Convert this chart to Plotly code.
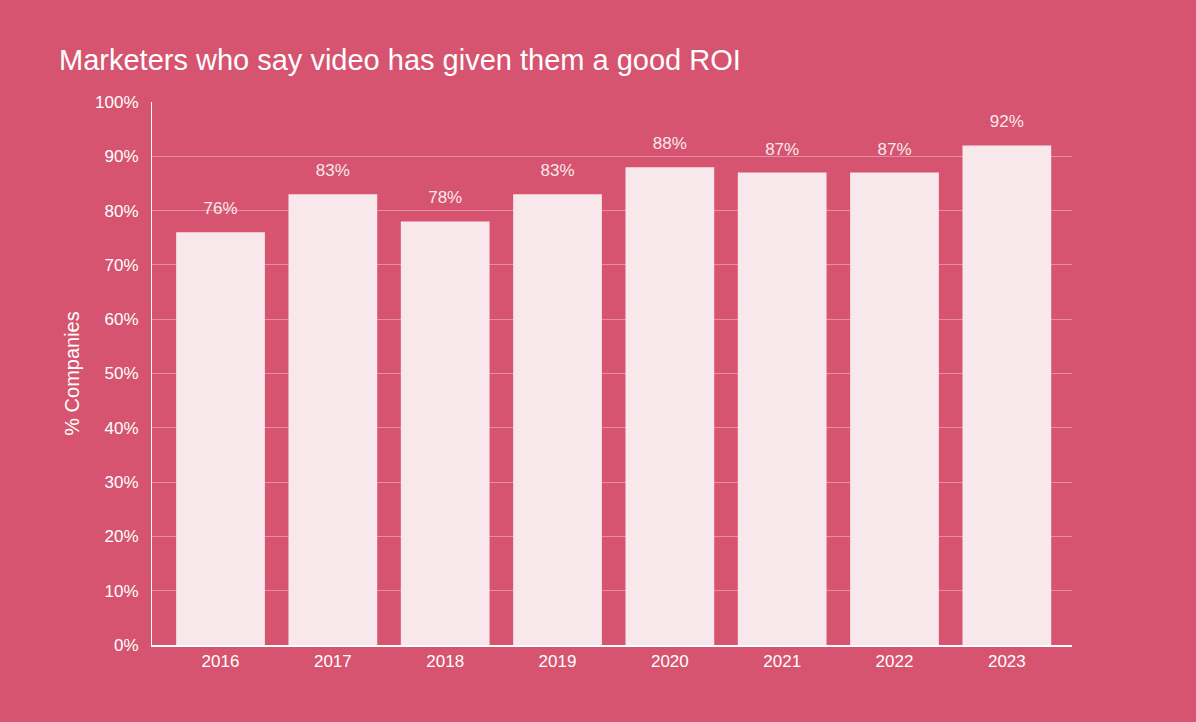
import plotly.graph_objects as go

years = ["2016", "2017", "2018", "2019", "2020", "2021", "2022", "2023"]
values = [76, 83, 78, 83, 88, 87, 87, 92]
labels = [f"{v}%" for v in values]
title_text = "Marketers who say video has given them a good ROI"
y_title = "% Companies"

BG = "#D6546F"
BAR = "#F9E8EB"
FONT = "Liberation Sans, Arial, sans-serif"
LABEL_OFFSET = 4.1  # label centre above bar top, in axis units

fig = go.Figure()
fig.add_trace(go.Bar(x=years, y=values, marker=dict(color=BAR, line=dict(width=0)),
                     width=0.79, hoverinfo="skip"))
fig.add_trace(go.Scatter(x=years, y=[v + LABEL_OFFSET for v in values], mode="text",
                         text=labels, textposition="middle center",
                         textfont=dict(family=FONT, size=17, color=BAR),
                         hoverinfo="skip", cliponaxis=False))

fig.update_layout(
    width=1196, height=722,
    paper_bgcolor=BG, plot_bgcolor=BG,
    margin=dict(l=152, r=124, t=102, b=77),
    showlegend=False,
    font=dict(family=FONT, color="white"),
    title=dict(text=title_text, x=59/1196, xanchor="left", y=1-60/722, yanchor="middle",
               font=dict(family=FONT, size=29, color="white")),
)
fig.update_xaxes(type="category", range=[-0.61, 7.58], showgrid=False,
                 showline=True, linecolor="white", linewidth=1.5,
                 ticks="", tickfont=dict(family=FONT, size=17, color="white"))
fig.update_yaxes(range=[0, 100], dtick=10, ticksuffix="%",
                 showgrid=True, gridcolor="rgba(255,255,255,0.35)", gridwidth=1,
                 showline=True, linecolor="white", linewidth=1.2, zeroline=False,
                 ticks="outside", ticklen=9, tickcolor="rgba(0,0,0,0)",
                 tickfont=dict(family=FONT, size=17, color="white"),
                 title=dict(text=y_title, font=dict(family=FONT, size=20, color="white"), standoff=10))

fig.write_html("out.html", config={"displayModeBar": False},
               post_script="document.body.style.margin='0';")
